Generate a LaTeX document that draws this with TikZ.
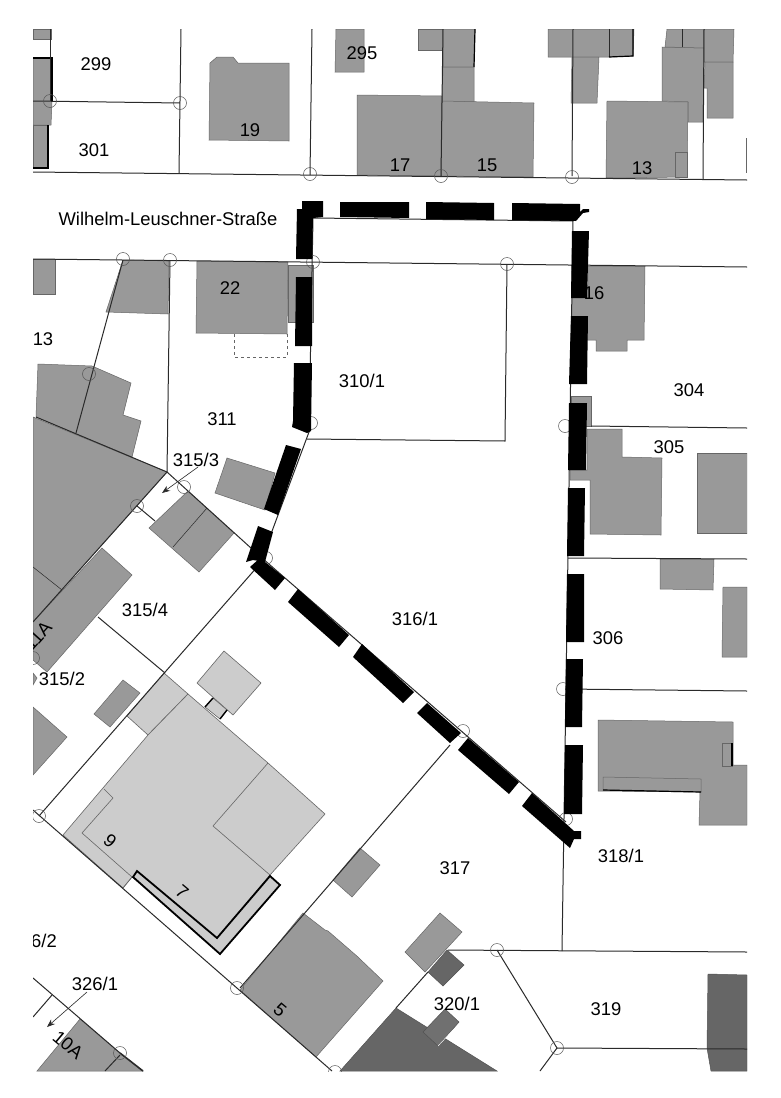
\documentclass[tikz,border=0pt]{standalone}
\usepackage{fontspec}
\setmainfont{Liberation Sans}
\usetikzlibrary{arrows.meta}
\definecolor{bld}{HTML}{999999}
\definecolor{lgt}{HTML}{CCCCCC}
\definecolor{drk}{HTML}{666666}
\definecolor{ink}{HTML}{2A2A2A}
\tikzset{
  bldg/.style={fill=bld,draw=drk,line width=0.5pt},
  light/.style={fill=lgt,draw=drk,line width=0.6pt},
  dark/.style={fill=drk,draw=drk!80!black,line width=0.5pt},
  parcel/.style={draw=ink,line width=1pt},
  heavy/.style={draw=black,line width=1.8pt},
  seg/.style={fill=black,draw=none},
  mark circle/.style={draw=ink!80,line width=0.5pt,fill=none},
  lab/.style={inner sep=0pt,text=black,yshift=-0.7pt,font=\fontsize{18.4}{21}\selectfont},
  leader/.style={draw=ink,line width=0.6pt,-{Stealth[length=8pt,width=6pt]}},
}
\begin{document}
\begin{tikzpicture}[x=1pt,y=-1pt]
\useasboundingbox (0,0) rectangle (780,1098);
\fill[white] (0,0) rectangle (780,1098);
\begin{scope}
\clip (33,29) rectangle (747,1071);
% ---------- top row buildings
\draw[bldg] (33,29)--(51,29)--(51,39)--(33,39)--cycle;
\draw[bldg] (33,58)--(52,58)--(52,102)--(51,125)--(33,125)--cycle;
\draw[bldg] (33,125)--(48,125)--(48,168)--(33,168)--cycle;
\draw[heavy] (33,58)--(52,58)--(52,102);
\draw[heavy] (48,125)--(48,168)--(33,168);
\draw[bldg] (210,63)--(217,57)--(233,57)--(238,63)--(289,63)--(289,141)--(209,140)--cycle;
\draw[bldg] (336,29)--(364,29)--(364,72)--(335,72)--cycle;
\draw[bldg] (357,95)--(442,96)--(441,176)--(357,175)--cycle;
\draw[bldg] (418,29)--(443,29)--(443,50)--(418,50)--cycle;
\draw[bldg] (443,29)--(475,29)--(474,67)--(443,67)--cycle;
\draw[heavy,line width=1.2pt] (475,29)--(474,67);
\draw[bldg] (443,67)--(474,67)--(474,102)--(442,102)--cycle;
\draw[bldg] (442,101)--(534,103)--(533,177)--(441,176)--cycle;
\draw[bldg] (548,29)--(634,29)--(633,56)--(609,57)--(548,57)--cycle;
\draw[parcel] (609,29)--(609,57);
\draw[heavy,line width=1.2pt] (633,29)--(633,56)--(609,57);
\draw[bldg] (572,57)--(599,57)--(597,103)--(571,103)--cycle;
\draw[bldg] (662,47)--(704,48)--(703,122)--(688,122)--(688,102)--(662,101)--cycle;
\draw[bldg] (667,29)--(704,29)--(704,48)--(665,47)--cycle;
\draw[parcel,line width=0.5pt] (682,29)--(682,47);
\draw[bldg] (704,29)--(734,29)--(733,62)--(704,62)--cycle;
\draw[bldg] (705,62)--(733,62)--(733,118)--(707,118)--(707,88)--(704,88)--cycle;
\draw[bldg] (607,101)--(688,102)--(687,177)--(606,178)--cycle;
\draw[bldg] (675,152)--(687,152)--(687,177)--(675,177)--cycle;
\draw[draw=drk,line width=0.8pt] (746,138)--(746,173);
% ---------- north of the road / south side
\draw[bldg] (33,259)--(55,259)--(55,294)--(33,294)--cycle;
\draw[bldg] (123,260)--(169,261)--(168,314)--(106,312)--cycle;
\draw[bldg] (288,265)--(313,265)--(313,322)--(288,322)--cycle;
\draw[bldg] (197,261)--(288,262)--(287,334)--(196,333)--cycle;
\draw[draw=drk,dashed,line width=0.5pt] (234,334)--(234,357)--(287,357)--(287,334);
\draw[bldg] (38,364)--(92,366)--(131,383)--(123,415)--(141,421)--(132,457)--(76,434)--(36,417)--cycle;
\draw[bldg] (33,417)--(167,472)--(33,622)--cycle;
\draw[bldg] (102,548)--(132,575)--(47,672)--(33,660)--(33,622)--cycle;
\draw[parcel,line width=0.5pt] (33,567)--(62,590);
\draw[bldg] (188,491)--(234,533)--(199,572)--(149,528)--cycle;
\draw[parcel,line width=0.5pt] (207,508)--(173,547);
\draw[bldg] (227,458)--(275,473)--(265,510)--(215,493)--cycle;
\draw[bldg] (123,680)--(140,693)--(110,727)--(94,714)--cycle;
\draw[bldg] (33,673)--(37,678)--(33,685)--cycle;
\draw[bldg] (33,707)--(67,737)--(33,775)--cycle;
% ---------- east side buildings
\draw[bldg] (588,266)--(645,266)--(644,340)--(627,340)--(627,351)--(596,351)--(596,340)--(587,340)--cycle;
\fill[bld] (572,298) rectangle (590,316);
\draw[bldg] (571,396)--(591,396)--(591,426)--(571,426)--cycle;
\draw[bldg] (587,429)--(622,429)--(622,457)--(662,458)--(661,535)--(590,534)--(590,480)--(570,480)--(570,470)--(587,470)--cycle;
\draw[bldg] (697,453)--(747,453)--(747,533)--(697,533)--cycle;
\draw[bldg] (660,559)--(714,559)--(713,590)--(660,589)--cycle;
\draw[bldg] (723,587)--(747,587)--(747,657)--(722,657)--cycle;
\draw[bldg] (598,720)--(733,722)--(733,765)--(747,765)--(747,825)--(699,825)--(700,792)--(598,791)--cycle;
\draw[bldg] (603,777)--(701,779)--(701,792)--(603,790)--cycle;
\draw[heavy,line width=1.2pt] (603,790)--(701,792);
\draw[bldg] (722,743)--(732,743)--(732,766)--(722,766)--cycle;
\draw[heavy,line width=1.2pt] (732,743)--(732,766);
% ---------- light building group 7/9
\draw[light] (164,673)--(188,694)--(148,735)--(127,716)--cycle;
\draw[light] (224,651)--(261,683)--(233,715)--(197,683)--cycle;
\draw[light] (213,698)--(227,710)--(220,719)--(205,707)--cycle;
\draw[heavy,line width=1.4pt] (213,698)--(205,707) (227,710)--(220,719);
\draw[light] (63,835)--(148,735)--(188,694)--(268,763)--(325,814)--(270,875)--(217,938)--(132,877)--(123,888)--cycle;
\draw[draw=drk,line width=0.6pt] (268,763)--(213,826)--(270,875);
\draw[draw=drk,line width=0.6pt] (123,888)--(132,877)--(82,833)--(113,798)--(104,789);
\draw[heavy,fill=lgt,line join=miter] (137,871)--(217,938)--(270,876)--(280,885)--(220,954)--(133,877)--cycle;
% ---------- south buildings
\draw[bldg] (360,848)--(380,865)--(352,897)--(333,880)--cycle;
\draw[bldg] (303,913)--(325,930)--(328,931)--(358,957)--(360,959)--(383,981)--(316,1057)--(240,990)--cycle;
\draw[bldg] (440,913)--(462,932)--(425,972)--(405,952)--cycle;
\draw[dark] (447,950)--(464,965)--(443,986)--(428,972)--cycle;
\draw[dark] (396,1008)--(497,1071)--(340,1071)--cycle;
\draw[dark,fill=drk!110!black] (445,1009)--(459,1022)--(438,1046)--(423,1032)--cycle;
\draw[draw=white,line width=0.5pt] (453,1030)--(438,1046);
\draw[dark] (708,974)--(747,975)--(747,1071)--(711,1071)--(707,1048)--cycle;
\draw[bldg] (80,1019)--(120,1053)--(143,1071)--(37,1071)--cycle;
% ---------- parcel lines
\draw[parcel] (50,29)--(50,101);
\draw[parcel] (33,101)--(180,103);
\draw[parcel] (181,29)--(179,173);
\draw[parcel] (312,29)--(310,175);
\draw[parcel] (33,172)--(747,180);
\draw[parcel] (443,29)--(441,176);
\draw[parcel] (573,29)--(572,176);
\draw[parcel] (704,29)--(703,179);
\draw[parcel] (33,259)--(747,267);
\draw[parcel] (123,260)--(76,433);
\draw[parcel] (170,260)--(167,472);
\draw[parcel] (313,218)--(573,221)--(562,951);
\draw[parcel] (313,218)--(309,432)--(262,558)--(566,822);
\draw[parcel] (507,264)--(505,441)--(307,439);
\draw[parcel] (591,426)--(747,428);
\draw[parcel] (568,558)--(747,559);
\draw[parcel] (565,689)--(747,691);
\draw[parcel] (36,417)--(167,472)--(262,558);
\draw[parcel] (167,472)--(33,622);
\draw[parcel] (137,506)--(155,521);
\draw[parcel] (98,617)--(165,673);
\draw[parcel] (258,566)--(39,816);
\draw[parcel] (33,810)--(332,1071);
\draw[parcel] (450,745)--(240,988);
\draw[parcel] (448,950)--(747,952);
\draw[parcel] (497,950)--(557,1048)--(747,1049);
\draw[parcel] (557,1048)--(540,1071);
\draw[parcel] (428,972)--(396,1008);
\draw[parcel] (33,978)--(120,1053);
\draw[parcel,line width=1.6pt] (120,1053)--(143,1071);
\draw[parcel] (33,1017)--(52,995);
\draw[parcel] (105,1071)--(120,1055);
% ---------- survey marks
\foreach \px/\py in {50/101,180/103,310/174,441/176,572/177,123/259,170/260,313/262,507/264,89/374,311/423,184/487,137/506,266/558,33/658,565/426,563/689,463/731,566/819,39/816,237/988,120/1053,335/1072,497/950,557/1048}
  \draw[mark circle] (\px,\py) circle (6.5pt);
% ---------- boundary of the area (heavy dashed)
\fill[seg] (302,201)--(323,201)--(323,217)--(313,218)--(312,259)--(296,259)--(297,209)--(302,209)--cycle;
\fill[seg] (340,202)--(409,202)--(409,218)--(340,217)--cycle;
\fill[seg] (426,202)--(494,203)--(494,220)--(426,219)--cycle;
\fill[seg] (512,203)--(580,204)--(580,212)--(583,209)--(589,209)--(589,212)--(583,213)--(576,221)--(512,220)--cycle;
\fill[seg] (572,231)--(589,231)--(587,298)--(571,298)--cycle;
\fill[seg] (571,316)--(588,316)--(587,384)--(569,384)--cycle;
\fill[seg] (569,403)--(587,403)--(586,470)--(568,470)--cycle;
\fill[seg] (568,488)--(585,488)--(584,556)--(567,556)--cycle;
\fill[seg] (567,574)--(584,574)--(584,642)--(566,642)--cycle;
\fill[seg] (566,659)--(583,659)--(582,727)--(565,727)--cycle;
\fill[seg] (565,745)--(583,745)--(582,814)--(564,814)--cycle;
\fill[seg] (296,277)--(312,277)--(312,346)--(295,346)--cycle;
\fill[seg] (294,363)--(312,363)--(311,431)--(307,433)--(292,427)--(293,421)--cycle;
\fill[seg] (286,445)--(301,449)--(278,515)--(264,509)--cycle;
\fill[seg] (258,526)--(273,532)--(265,562)--(253,560)--(246,562)--cycle;
\fill[seg] (260,558)--(285,578)--(275,590)--(250,567)--cycle;
\fill[seg] (298,589)--(349,635)--(339,647)--(288,602)--cycle;
\fill[seg] (362,644)--(414,692)--(403,703)--(353,657)--cycle;
\fill[seg] (427,703)--(461,733)--(450,743)--(417,713)--cycle;
\fill[seg] (468,738)--(519,782)--(509,794)--(458,750)--cycle;
\fill[seg] (532,793)--(574,831)--(581,831)--(581,839)--(574,839)--(570,848)--(522,806)--cycle;
% ---------- rotated texts inside the clip
\node[lab,rotate=48] (t11a) at (38,635) {11A};
\node[lab,rotate=-40] (t10a) at (68,1044) {10A};
\node[lab,anchor=west] (t62) at (31,940) {6/2};
\node[lab] (t13b) at (43,338) {13};
\end{scope}
% ---------- leaders
\coordinate (a1) at (198,467);
\coordinate (a2) at (162,493);
\coordinate (b1) at (87,992);
\coordinate (b2) at (47,1027);
\draw[leader] (a1)--(a2);
\draw[leader] (b1)--(b2);
% ---------- labels
\node[lab] (t299) at (96,63) {299};
\node[lab] (t301) at (94,149) {301};
\node[lab] (t19) at (250,129) {19};
\node[lab] (t295) at (362,52) {295};
\node[lab] (t17) at (400,164) {17};
\node[lab] (t15) at (487,165) {15};
\node[lab] (t13) at (642,167) {13};
\node[lab] (tstr) at (168,218) {Wilhelm-Leuschner-Straße};
\node[lab] (t22) at (230,287) {22};
\node[lab] (t16) at (594,292) {16};
\node[lab] (t304) at (689,389) {304};
\node[lab] (t3101) at (362,380) {310/1};
\node[lab] (t311) at (222,418) {311};
\node[lab] (t3153) at (196,459) {315/3};
\node[lab] (t305) at (669,446) {305};
\node[lab] (t3154) at (145,609) {315/4};
\node[lab] (t3161) at (415,618) {316/1};
\node[lab] (t306) at (608,637) {306};
\node[lab] (t3152) at (62,678) {315/2};
\node[lab,rotate=-40] (t9) at (110,840) {9};
\node[lab,rotate=-40] (t7) at (182,891) {7};
\node[lab,rotate=-40] (t5) at (280,1009) {5};
\node[lab] (t3181) at (621,855) {318/1};
\node[lab] (t317) at (455,867) {317};
\node[lab] (t3261) at (95,983) {326/1};
\node[lab] (t3201) at (457,1003) {320/1};
\node[lab] (t319) at (606,1008) {319};
\end{tikzpicture}
\end{document}
